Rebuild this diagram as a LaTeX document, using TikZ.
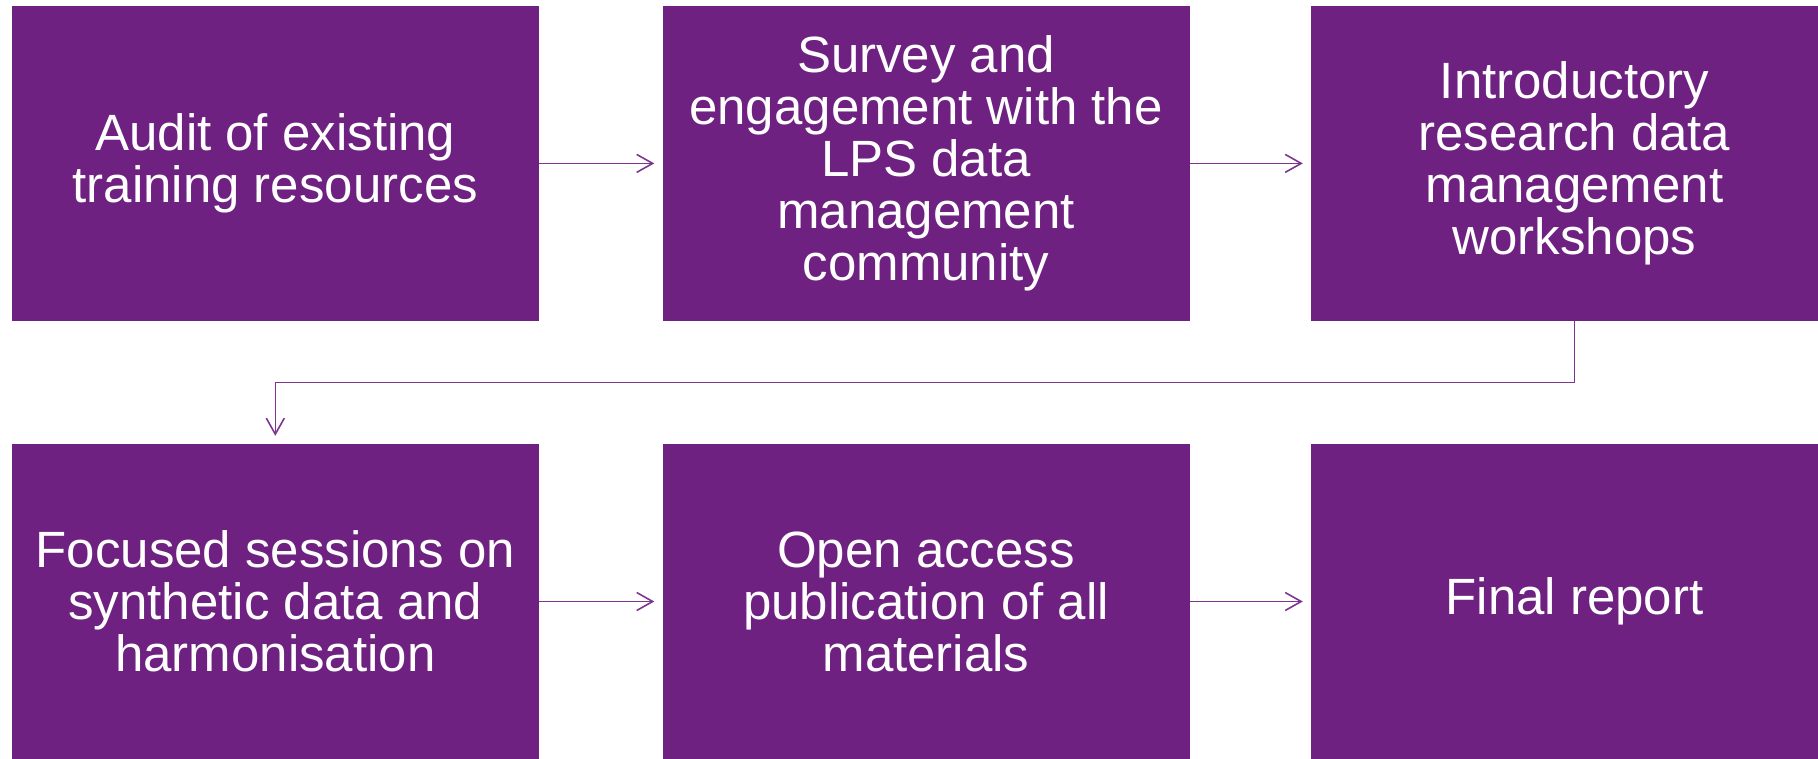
\documentclass[tikz,border=0pt]{standalone}
\usepackage{fontspec}
\setmainfont{Liberation Sans}
\usetikzlibrary{arrows.meta}
\definecolor{plum}{HTML}{6F2182}
\definecolor{plumline}{HTML}{7E3592}
\begin{document}
\begin{tikzpicture}[x=1pt,y=-1pt,
    stage/.style={fill=plum, minimum width=527pt, minimum height=315pt,
      inner sep=0pt, text=white, align=center,
      font=\fontsize{51}{52}\selectfont},
    flow/.style={draw=plumline, line width=1.6pt,
      -{Straight Barb[length=16pt,width=18pt]}, shorten >=8pt}]
  \useasboundingbox (0,0) rectangle (1818,758);
  \clip (0,0) rectangle (1818,758);
  \draw
    (275.3,163.4) node[stage] (audit){Audit of existing\\training resources}
    (926,163.4) node[stage] (survey){Survey and\\engagement with the\\LPS data\\management\\community}
    (1574.5,163.4) node[stage] (intro){Introductory\\research data\\management\\workshops}
    (275.3,601.5) node[stage] (focused){Focused sessions on\\synthetic data and\\harmonisation}
    (926,601.5) node[stage] (openaccess){Open access\\publication of all\\materials}
    (1574.5,601.5) node[stage] (final){Final report};
  \coordinate (bend) at (1574.5,382.5);
  \begin{scope}[flow]
    \draw (audit) to (survey);
    \draw (survey) to (intro);
    \draw (intro.south) -- (bend) -| (focused.north);
    \draw (focused) to (openaccess);
    \draw (openaccess) to (final);
  \end{scope}
\end{tikzpicture}
\end{document}
